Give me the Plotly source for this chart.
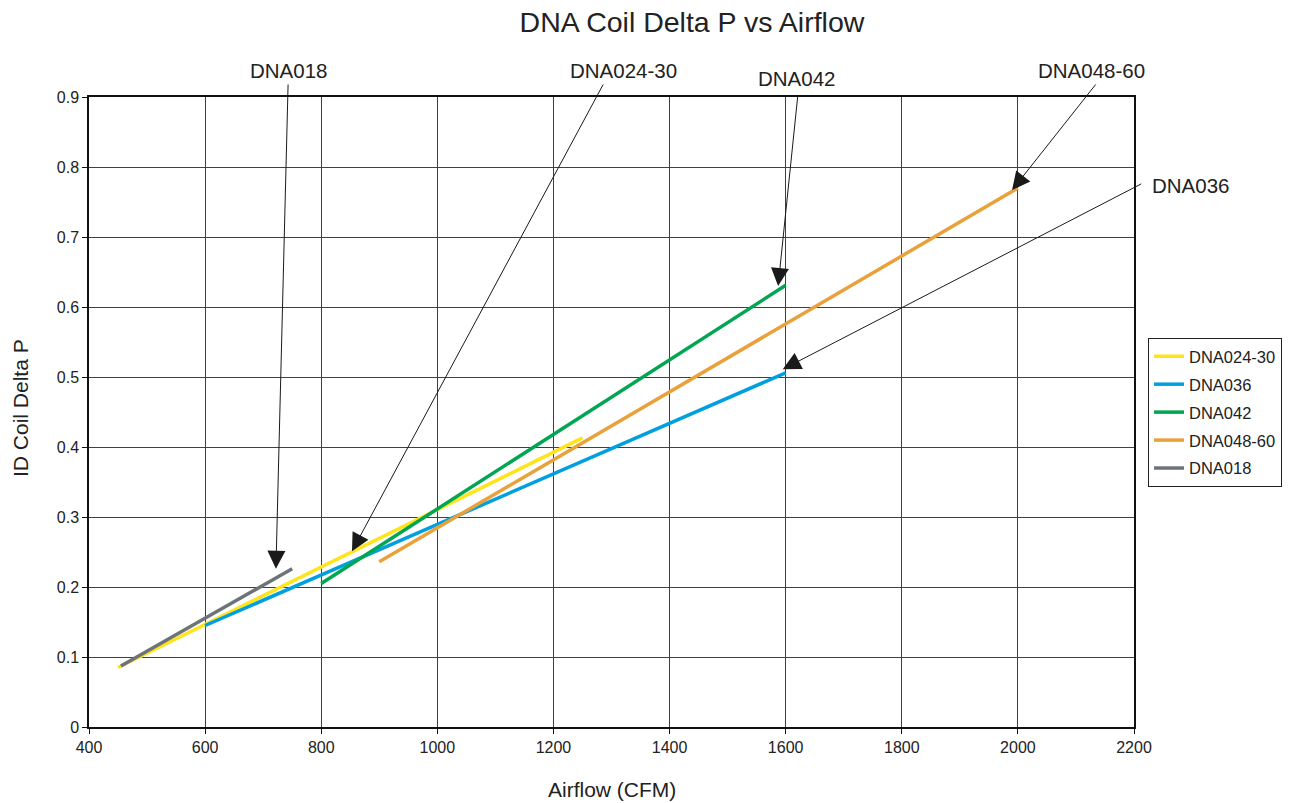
import plotly.graph_objects as go

series_names = ["DNA024-30", "DNA036", "DNA042", "DNA048-60", "DNA018"]
series_colors = ["#FFE41C", "#00A0E0", "#00A651", "#E9A23B", "#6D7478"]
airflow = {
    "DNA024-30": [450, 1250],
    "DNA036": [600, 1600],
    "DNA042": [800, 1600],
    "DNA048-60": [900, 2000],
    "DNA018": [455, 750],
}
delta_p = {
    "DNA024-30": [0.085, 0.413],
    "DNA036": [0.145, 0.506],
    "DNA042": [0.205, 0.631],
    "DNA048-60": [0.236, 0.770],
    "DNA018": [0.087, 0.226],
}

# callouts: label, arrow tail, arrow tip (data units)
callout_labels = ["DNA018", "DNA024-30", "DNA042", "DNA048-60", "DNA036"]
callout_tail_xy = [(743, 0.92), (1287, 0.92), (1621, 0.903), (2136, 0.92), (2215, 0.777)]
callout_tip_xy = [(722, 0.226), (853, 0.251), (1587, 0.630), (1990, 0.767), (1595, 0.511)]
# label anchor positions in page pixels (converted to paper coords below)
callout_text_px = [(289, 71), (623, 71), (797, 78), (1091, 71), (1150, 186)]

x_ticks = list(range(400, 2201, 200))
y_ticks = [0, 0.1, 0.2, 0.3, 0.4, 0.5, 0.6, 0.7, 0.8, 0.9]

# body margin is removed in the page, so figure fills the window
OFF = 0
W, H = 1314, 803
L, T = 89 - OFF, 97 - OFF
R = W - (1134 - OFF)
B = H - (727 - OFF)
PW, PH = W - L - R, H - T - B

fig = go.Figure()
for name, color in zip(series_names, series_colors):
    fig.add_trace(go.Scatter(
        x=airflow[name], y=delta_p[name], mode="lines", name=name, legendgroup=name,
        line=dict(color=color, width=3.5),
    ))

annotations = []
for label, (ax, ay), (px, py), (tx, ty) in zip(callout_labels, callout_tail_xy, callout_tip_xy, callout_text_px):
    annotations.append(dict(
        x=px, y=py, xref="x", yref="y", ax=ax, ay=ay, axref="x", ayref="y",
        text="", showarrow=True, arrowhead=2, arrowsize=3.6, arrowwidth=1,
        arrowcolor="#1a1a1a", standoff=0,
    ))
    annotations.append(dict(
        x=(tx - OFF - L) / PW, y=1 - (ty - OFF - T) / PH, xref="paper", yref="paper",
        text=label, showarrow=False,
        xanchor="left" if label == "DNA036" else "center", yanchor="middle",
        font=dict(size=20.5, color="#222222"),
    ))

# axis titles placed as paper annotations to keep plot area fixed
annotations.append(dict(
    x=(612 - OFF - L) / PW, y=1 - (789 - OFF - T) / PH, xref="paper", yref="paper",
    text="Airflow (CFM)", showarrow=False, xanchor="center", yanchor="middle",
    font=dict(size=21, color="#222222"),
))
annotations.append(dict(
    x=(20 - OFF - L) / PW, y=1 - (408 - OFF - T) / PH, xref="paper", yref="paper",
    text="ID Coil Delta P", showarrow=False, xanchor="center", yanchor="middle",
    textangle=-90, font=dict(size=21, color="#222222"),
))

fig.update_layout(
    width=W, height=H,
    margin=dict(l=L, r=R, t=T, b=B, autoexpand=False),
    paper_bgcolor="white", plot_bgcolor="white",
    font=dict(family="Arial, Liberation Sans, sans-serif", size=16, color="#222222"),
    title=dict(text="DNA Coil Delta P vs Airflow", x=(692 - OFF) / W, xanchor="center",
               y=1 - (22 - OFF) / H, yanchor="middle", font=dict(size=28.5)),
    showlegend=True,
    legend=dict(x=(1148 - OFF - L) / PW, y=1 - (338 - OFF - T) / PH, xanchor="left", yanchor="top",
                bordercolor="#222222", borderwidth=1, font=dict(size=16.5),
                tracegroupgap=3.5, itemwidth=30),
    annotations=annotations,
)
fig.update_xaxes(
    range=[400, 2200], tickvals=x_ticks, showgrid=True, gridcolor="#404040", gridwidth=1,
    showline=True, linecolor="#111111", linewidth=1.5, mirror=True,
    ticks="outside", ticklen=5, tickcolor="#111111", zeroline=False, automargin=False,
)
fig.update_yaxes(
    range=[0, 0.9], tickvals=y_ticks, ticktext=[f"{v:g}" for v in y_ticks],
    showgrid=True, gridcolor="#404040", gridwidth=1,
    showline=True, linecolor="#111111", linewidth=1.5, mirror=True,
    ticks="outside", ticklen=5, tickcolor="#111111", zeroline=False, automargin=False,
)

fig.write_html(
    "out.html",
    config={"displayModeBar": False},
    post_script="document.body.style.margin='0px';document.documentElement.style.overflow='hidden';document.body.style.overflow='hidden';",
)
